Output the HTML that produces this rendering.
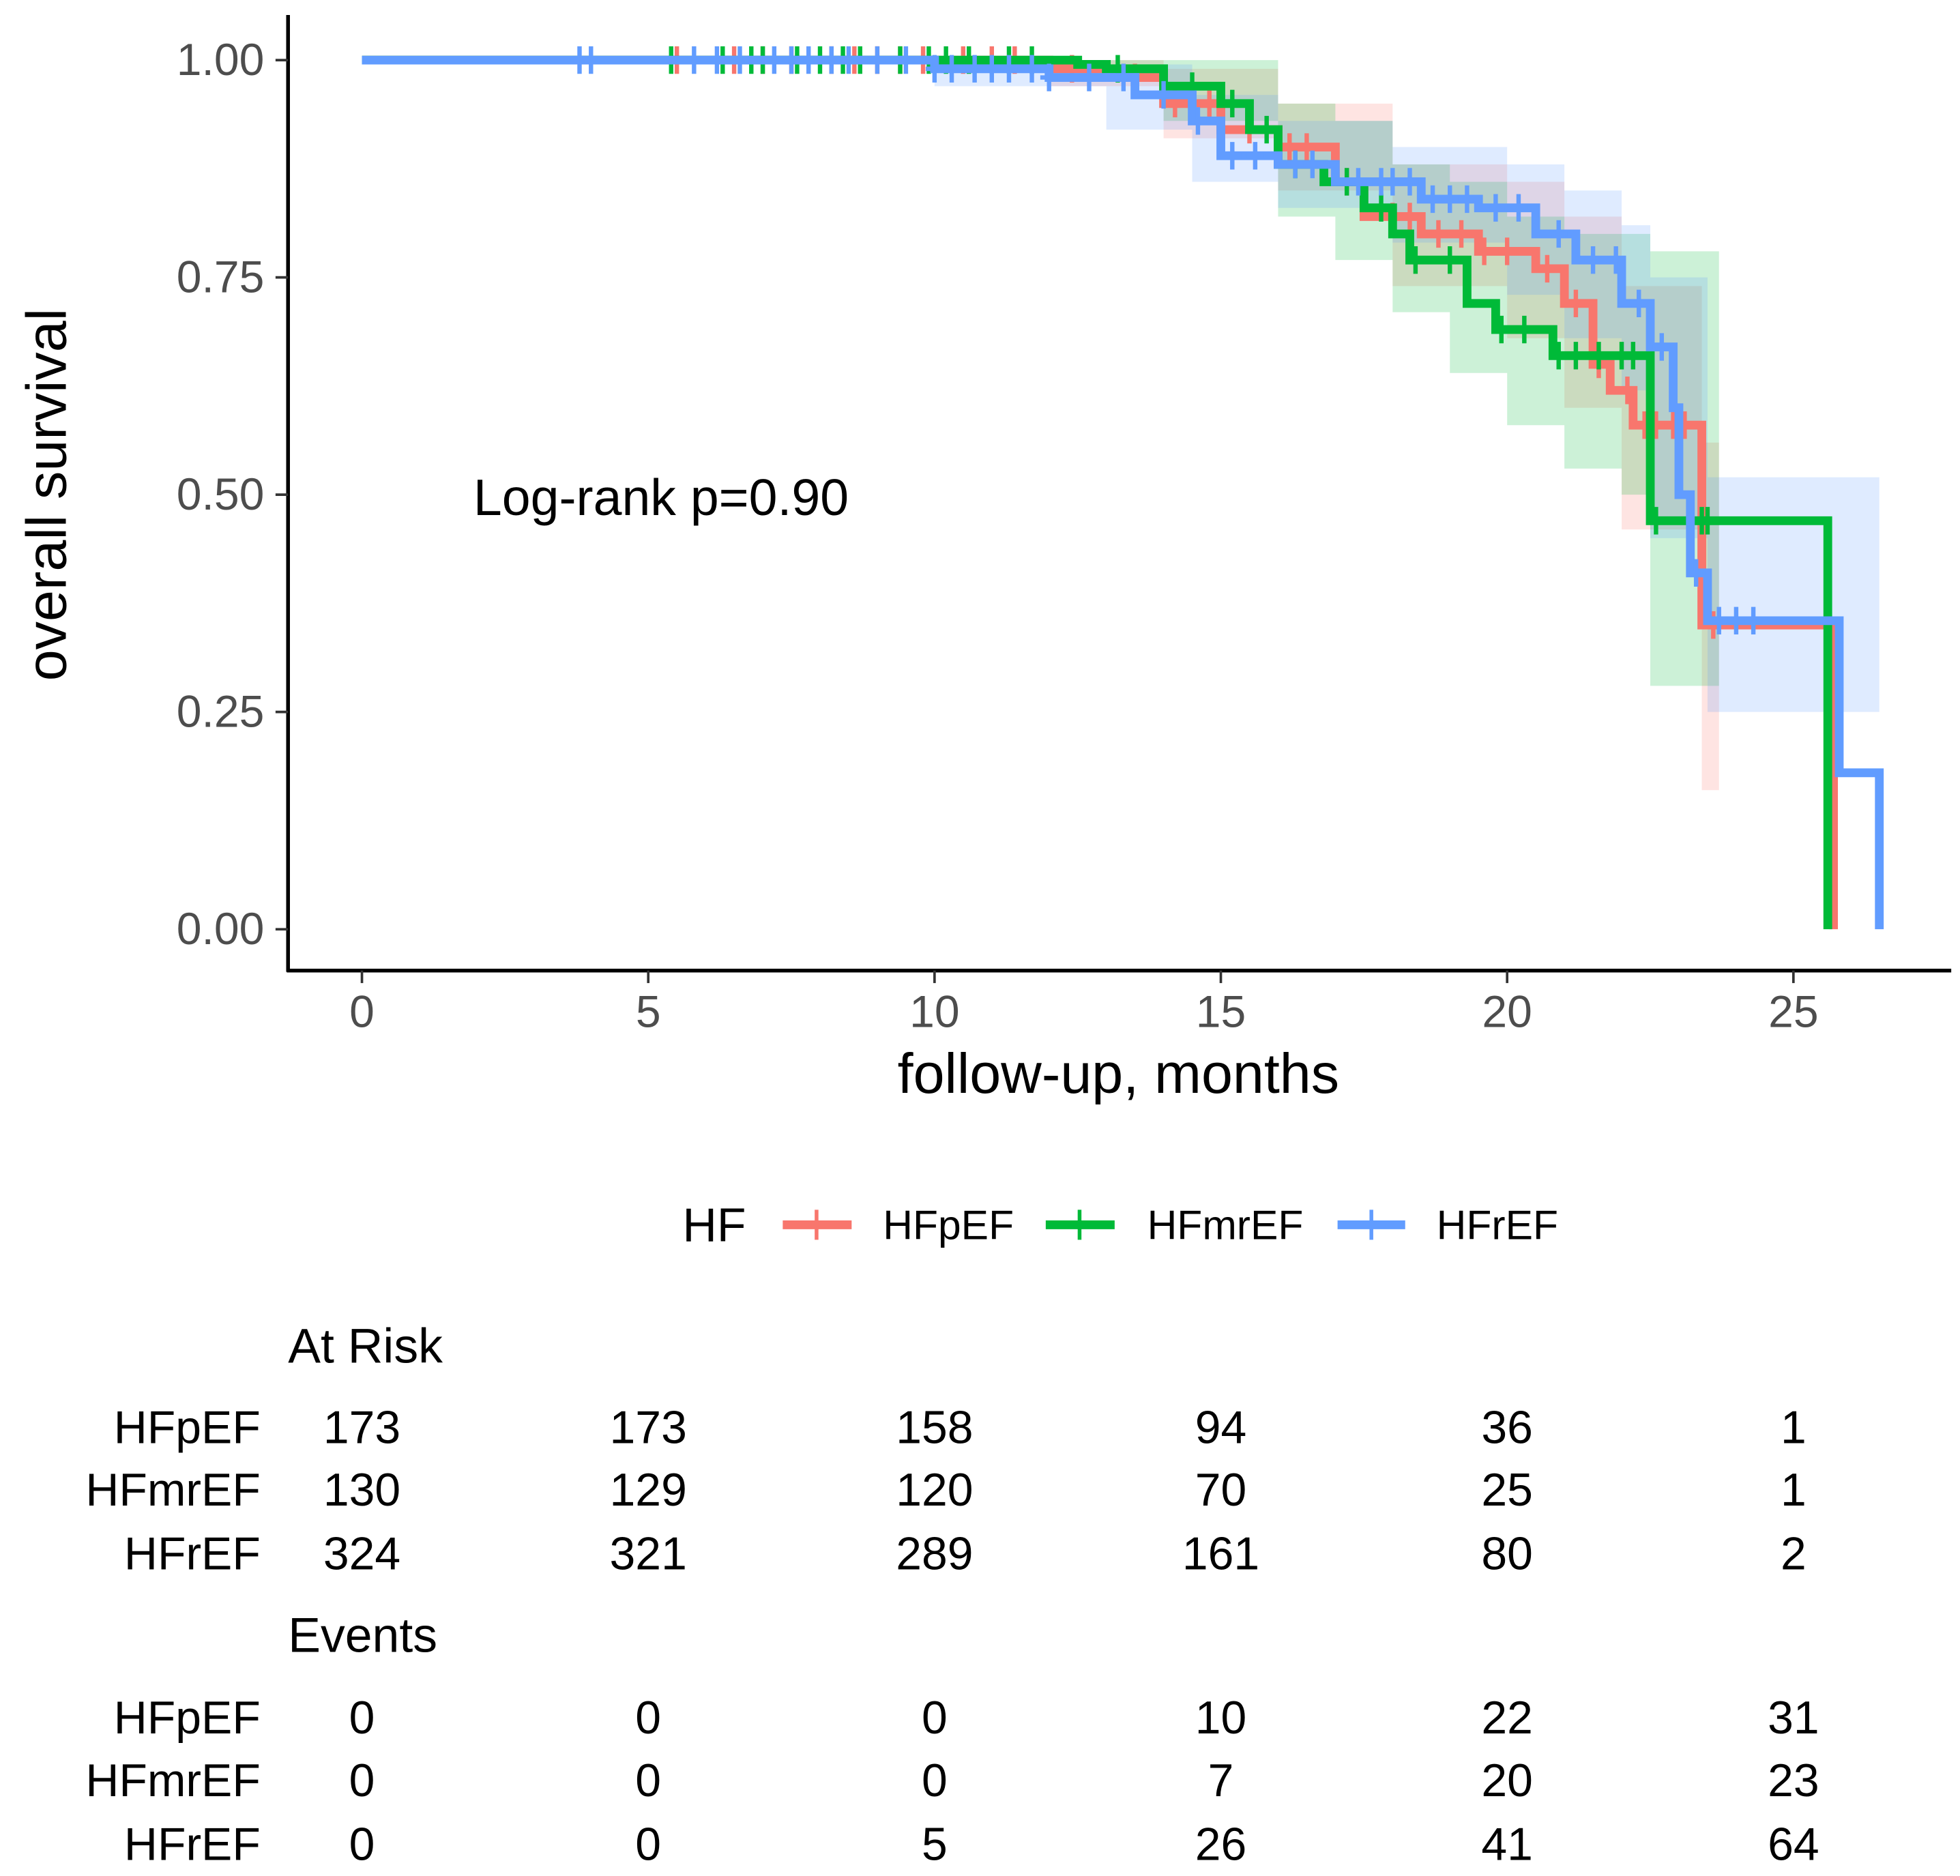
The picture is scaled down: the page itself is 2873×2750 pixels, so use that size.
<!DOCTYPE html>
<html><head><meta charset="utf-8"><style>
html,body{margin:0;padding:0;background:#fff}
svg{display:block;font-family:"Liberation Sans",Arial,sans-serif}
</style></head><body>
<svg id="chart" width="2873" height="2750" viewBox="0 0 1565 1498" xmlns="http://www.w3.org/2000/svg">
<g id="bands"></g>
<g id="lines"></g>
<g id="axes">
<line x1="230" y1="12" x2="230" y2="776" stroke="#000" stroke-width="3"/>
<line x1="229" y1="775" x2="1558" y2="775" stroke="#000" stroke-width="3"/>
</g>
<text x="37" y="395" font-size="45" text-anchor="middle" transform="rotate(-90 37 395)" dominant-baseline="central">overall survival</text>
<text x="893" y="857" font-size="45" text-anchor="middle" dominant-baseline="central">follow-up, months</text>
<text x="378" y="397" font-size="41" dominant-baseline="central">Log-rank p=0.90</text>
<g font-size="33">
<text x="545" y="978" font-size="38" dominant-baseline="central">HF</text>
<g><line x1="625" y1="978" x2="680" y2="978" stroke="#F8766D" stroke-width="7"/><line x1="652" y1="966" x2="652" y2="990" stroke="#F8766D" stroke-width="3"/><text x="705" y="978" dominant-baseline="central">HFpEF</text></g>
<g><line x1="835" y1="978" x2="890" y2="978" stroke="#00BA38" stroke-width="7"/><line x1="862" y1="966" x2="862" y2="990" stroke="#00BA38" stroke-width="3"/><text x="916" y="978" dominant-baseline="central">HFmrEF</text></g>
<g><line x1="1068" y1="978" x2="1122" y2="978" stroke="#619CFF" stroke-width="7"/><line x1="1095" y1="966" x2="1095" y2="990" stroke="#619CFF" stroke-width="3"/><text x="1147" y="978" dominant-baseline="central">HFrEF</text></g>
</g>
<g id="table" font-size="37"></g>
</svg>
<script>
const xTicks=[0,5,10,15,20,25];
const yTicks=[0,0.25,0.5,0.75,1];
const yTickLabels=["0.00","0.25","0.50","0.75","1.00"];
const groups=["HFpEF","HFmrEF","HFrEF"];
const colors=["#F8766D","#00BA38","#619CFF"];
const redT=[0,12,13,14,15,16,17,17.5,18.5,19.5,20.5,21,21.5,21.8,22.2,23.4,25.7];
const redS=[1,0.99,0.98,0.95,0.92,0.90,0.86,0.82,0.80,0.78,0.76,0.72,0.65,0.62,0.58,0.35,0];
const greenT=[0,12.5,13,14,15,15.5,16,16.8,17.5,18,18.3,19.3,19.8,20.8,22.5,25.6];
const greenS=[1,0.995,0.99,0.97,0.95,0.92,0.88,0.86,0.83,0.80,0.77,0.72,0.69,0.66,0.47,0];
const blueT=[0,10,12,13.5,14.5,15,16,17,18.5,19.5,20.5,21.2,22,22.5,22.9,23.0,23.2,23.5,25.8,26.5];
const blueS=[1,0.99,0.98,0.96,0.93,0.89,0.88,0.86,0.84,0.83,0.80,0.77,0.72,0.67,0.60,0.50,0.41,0.355,0.18,0];
const redBT=[12,14,16,18,20,21,22,23.4,23.7];
const redLo=[0.97,0.91,0.85,0.74,0.68,0.60,0.46,0.16,0.16];
const redHi=[1,0.99,0.95,0.88,0.86,0.82,0.74,0.56,0.56];
const greenBT=[12.5,14,16,17,18,19,20,21,22,22.5,23.7];
const greenLo=[0.98,0.93,0.82,0.77,0.71,0.64,0.58,0.53,0.50,0.28,0.28];
const greenHi=[1,1,0.95,0.93,0.88,0.86,0.82,0.80,0.80,0.78,0.78];
const blueBT=[10,13,14.5,16,18,20,21,22,22.5,23.5,25.8,26.5];
const blueLo=[0.97,0.92,0.86,0.83,0.79,0.73,0.68,0.62,0.45,0.25,0.25,0.25];
const blueHi=[1,0.995,0.96,0.93,0.90,0.88,0.85,0.81,0.75,0.52,0.52,0.52];
const redC=[5.5,6.5,7,7.5,8.2,8.6,9,9.4,9.8,10.5,11,11.4,12.4,13.5,14.2,14.8,15.5,16.2,16.5,17.2,18,18.3,18.8,19.2,19.6,20,20.7,21.2,21.6,22.1,22.4,22.6,22.9,23.1,23.6];
const greenC=[5.4,6.3,6.8,7,7.6,8,8.4,8.7,9.4,9.9,10.2,10.6,11.3,11.7,13.2,14.5,15.2,15.8,16.3,17.2,17.8,18.4,19,19.9,20.3,20.9,21.2,21.6,22,22.2,22.6,23.4,23.5];
const blueC=[3.8,4,5.8,6.2,6.6,7.2,7.5,7.8,8.2,8.5,9,9.5,10,10.3,10.7,11,11.3,11.7,12,12.7,13.3,14,14.6,15.2,15.6,16.3,16.6,17.4,17.8,18,18.3,18.7,19,19.3,19.8,20.2,20.9,21.5,21.9,22.3,22.7,23.3,23.7,24,24.3];
const atRisk=[[173,173,158,94,36,1],[130,129,120,70,25,1],[324,321,289,161,80,2]];
const events=[[0,0,0,10,22,31],[0,0,0,7,20,23],[0,0,5,26,41,64]];

const X=t=>289+45.72*t, Y=s=>742-694*s;
const NS="http://www.w3.org/2000/svg";
function mk(tag,attrs,parent){const e=document.createElementNS(NS,tag);for(const k in attrs)e.setAttribute(k,attrs[k]);parent.appendChild(e);return e;}
const axes=document.getElementById('axes');
xTicks.forEach((t,i)=>{
 const l=mk('line',{x1:X(t),x2:X(t),y1:775,y2:785,stroke:'#333','stroke-width':2},axes);
 
 
 const tx=mk('text',{x:X(t),y:808,'font-size':36,fill:'#4d4d4d','text-anchor':'middle','dominant-baseline':'central'},axes);
 tx.textContent=t;
 
 
});
yTicks.forEach((v,i)=>{
 const l=mk('line',{x1:220,x2:230,y1:Y(v),y2:Y(v),stroke:'#333','stroke-width':2},axes);
 
 
 const tx=mk('text',{x:211,y:Y(v),'font-size':36,fill:'#4d4d4d','text-anchor':'end','dominant-baseline':'central'},axes);
 tx.textContent=yTickLabels[i];
 
 
});
function stepPath(T,S){let d=`M${X(T[0])},${Y(S[0])}`;for(let i=1;i<T.length;i++){d+=`H${X(T[i])}V${Y(S[i])}`;}return d;}
function bandPath(T,L,H){let up=`M${X(T[0])},${Y(H[0])}`;for(let i=1;i<T.length;i++)up+=`H${X(T[i])}V${Y(H[i])}`;
 let lo=`V${Y(L[L.length-1])}`;for(let i=T.length-1;i>0;i--)lo+=`H${X(T[i])}V${Y(L[i-1])}`;return up+lo+`H${X(T[0])}Z`;}
const bands=document.getElementById('bands'),lines=document.getElementById('lines');
const series=[[redT,redS,redBT,redLo,redHi,redC],[greenT,greenS,greenBT,greenLo,greenHi,greenC],[blueT,blueS,blueBT,blueLo,blueHi,blueC]];
series.forEach((s,g)=>{
 const b=mk('path',{d:bandPath(s[2],s[3],s[4]),fill:colors[g],'fill-opacity':0.2},bands);
 
 
});
function survAt(T,S,t){let v=S[0];for(let i=0;i<T.length;i++)if(T[i]<=t)v=S[i];return v;}
series.forEach((s,g)=>{
 const p=mk('path',{d:stepPath(s[0],s[1]),fill:'none',stroke:colors[g],'stroke-width':7},lines);
 
 
 s[5].forEach(t=>{
  const y=Y(survAt(s[0],s[1],t));
  const c=mk('path',{d:`M${X(t)},${y-11}V${y+11}M${X(t)-7},${y}H${X(t)+7}`,stroke:colors[g],'stroke-width':3.5},lines);
  
  
 });
});
const tbl=document.getElementById('table');
function txt(x,y,s,anchor,name,fs){const e=mk('text',{x:x,y:y,'text-anchor':anchor,'dominant-baseline':'central'},tbl);if(fs)e.setAttribute('font-size',fs);e.textContent=s;return e;}
txt(230,1075,'At Risk','start','at-risk-title',39);
txt(230,1306,'Events','start','events-title',39);
const riskY=[1140,1190,1241],evY=[1372,1422,1473];
groups.forEach((g,i)=>{
 txt(208,riskY[i],g,'end','at-risk-row-label');
 txt(208,evY[i],g,'end','events-row-label');
 xTicks.forEach((t,j)=>{
  txt(X(t),riskY[i],atRisk[i][j],'middle','at-risk-value');
  txt(X(t),evY[i],events[i][j],'middle','events-value');
 });
});
</script>
</body></html>
